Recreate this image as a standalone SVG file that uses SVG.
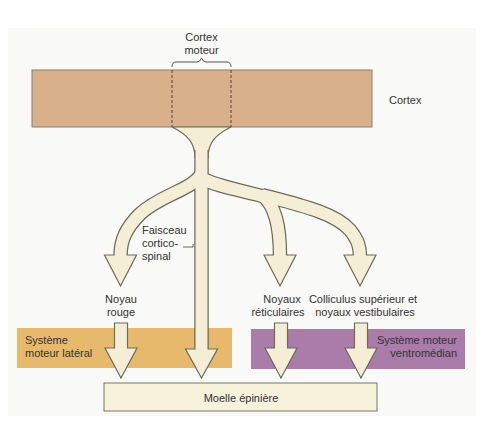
<svg xmlns="http://www.w3.org/2000/svg" width="484" height="440" viewBox="0 0 484 440">
<style>
text{font-family:"Liberation Sans",Arial,sans-serif;font-size:11px;fill:#333}
.c{text-anchor:middle}
.r{text-anchor:end}
.tubeo{fill:none;stroke:#6f6a5c;stroke-width:14.5;stroke-linecap:butt}
.tubei{fill:none;stroke:#f4eed6;stroke-width:12;stroke-linecap:butt}
.head{fill:#f4eed6;stroke:#6f6a5c;stroke-width:1.2;stroke-linejoin:miter}
</style>
<rect x="8" y="28" width="468" height="388" fill="#f9f9f7"/>

<g id="cortex">
<rect x="32" y="70" width="340" height="57" fill="#d9b08c" stroke="#8d7d6d" stroke-width="1"/>
<line x1="172" y1="70" x2="172" y2="127" stroke="#5a4030" stroke-width="1" stroke-dasharray="3,2"/>
<line x1="231" y1="70" x2="231" y2="127" stroke="#5a4030" stroke-width="1" stroke-dasharray="3,2"/>
<path d="M172,67 Q172,62 176,62 L197,62 Q200,62 201.5,58 Q203,62 206,62 L227,62 Q231,62 231,67" fill="none" stroke="#555" stroke-width="1"/>
<text class="c" x="201.5" y="41">Cortex</text>
<text class="c" x="201.5" y="54">moteur</text>
<text x="389" y="104">Cortex</text>
</g>

<g id="systeme-lateral">
<rect x="17" y="328" width="215" height="40" fill="#e7b96c"/>
<text x="25" y="344">Système</text>
<text x="25" y="357">moteur latéral</text>
</g>
<g id="systeme-ventromedian">
<rect x="251" y="329" width="214" height="40" fill="#a97ca9"/>
<text class="r" x="457" y="344">Système moteur</text>
<text class="r" x="457" y="357">ventromédian</text>
</g>

<g id="moelle">
<rect x="104" y="383" width="273" height="28" fill="#f6f2dc" stroke="#7a7468" stroke-width="1"/>
<text class="c" x="241" y="402">Moelle épinière</text>
</g>

<g id="connectors">
<path d="M172,127 C188,135 195,143 195,158 L208,158 C208,143 215,135 231,127 Z" fill="#f4eed6" stroke="#6f6a5c" stroke-width="1.2"/>
<g class="tubeo">
<path d="M201.5,150 L201.5,349"/>
<path d="M201.5,174 C192,190 160,195 140,214 C126,228 120.5,240 120.5,256"/>
<path d="M201.5,178 C215,186 240,190 266,197"/>
<path d="M262,195 C300,205 335,213 350,230 C358,240 360,247 360,256"/>
<path d="M262,195 C275,205 280,225 280,256"/>
</g>
<polygon class="head" points="104.5,255 136.5,255 120.5,286"/>
<polygon class="head" points="264,255 296,255 280,286"/>
<polygon class="head" points="344,255 376,255 360,286"/>
<polygon class="head" points="185.5,349 217.5,349 201.5,378"/>
<g class="tubei">
<path d="M201.5,145 L201.5,350"/>
<path d="M201.5,174 C192,190 160,195 140,214 C126,228 120.5,240 120.5,256"/>
<path d="M201.5,178 C215,186 240,190 266,197"/>
<path d="M262,195 C300,205 335,213 350,230 C358,240 360,247 360,256"/>
<path d="M262,195 C275,205 280,225 280,256"/>
</g>
<polygon class="head" points="114.5,323 127.5,323 127.5,348 137,348 121,378 105,348 114.5,348"/>
<polygon class="head" points="274.5,323 287.5,323 287.5,348 297,348 281,378 265,348 274.5,348"/>
<polygon class="head" points="354.5,323 367.5,323 367.5,348 377,348 361,378 345,348 354.5,348"/>
<polyline points="183,247 193,247 193,244" fill="none" stroke="#444" stroke-width="0.8"/>
</g>

<g id="labels">
<text x="142" y="234">Faisceau</text>
<text x="142" y="247">cortico-</text>
<text x="142" y="260">spinal</text>
<text class="c" x="121" y="303">Noyau</text>
<text class="c" x="121" y="316">rouge</text>
<text class="c" x="282" y="303">Noyaux</text>
<text class="c" x="278" y="316">réticulaires</text>
<text class="c" x="363" y="303">Colliculus supérieur et</text>
<text class="c" x="365" y="316">noyaux vestibulaires</text>
</g>
</svg>
